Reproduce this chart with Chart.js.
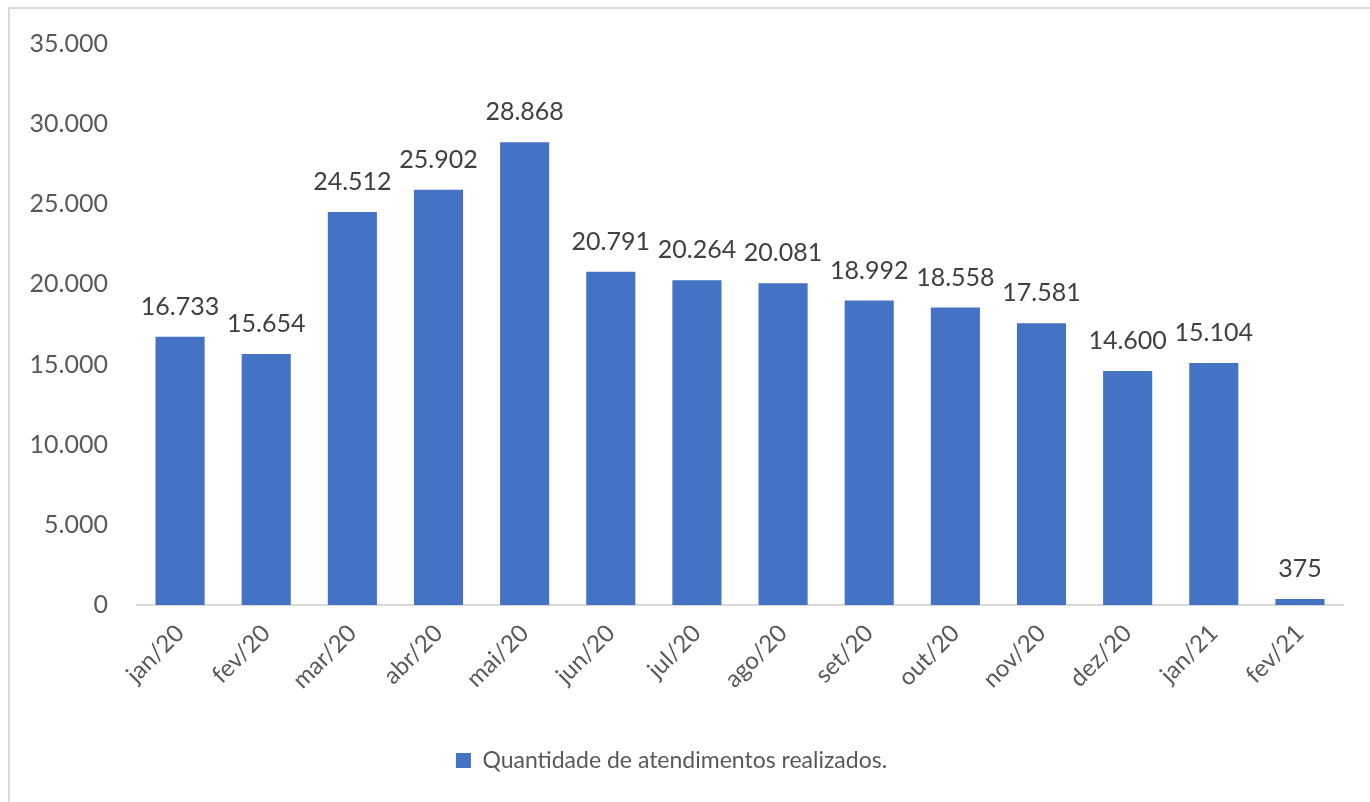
<!DOCTYPE html>
<html lang="pt-BR">
<head>
<meta charset="utf-8">
<title>Quantidade de atendimentos realizados</title>
<script src="https://cdn.jsdelivr.net/npm/chart.js"></script>
<style>
  html, body { margin: 0; padding: 0; background: #fff; overflow: hidden; }
  #frame {
    position: absolute; left: 8px; top: 7px;
    width: 1400px; height: 840px;
    border: 2px solid #d9d9d9; box-sizing: border-box;
  }
  #wrap { position: absolute; left: 0; top: 0; width: 1370px; height: 802px; }
</style>
</head>
<body>
<div id="frame"></div>
<div id="wrap"><canvas id="chart"></canvas></div>
<script>
// monthly service counts
const months = ['jan/20', 'fev/20', 'mar/20', 'abr/20', 'mai/20', 'jun/20', 'jul/20',
                'ago/20', 'set/20', 'out/20', 'nov/20', 'dez/20', 'jan/21', 'fev/21'];
const atendimentos = [16733, 15654, 24512, 25902, 28868, 20791, 20264,
                      20081, 18992, 18558, 17581, 14600, 15104, 375];
const yTicks = [0, 5000, 10000, 15000, 20000, 25000, 30000, 35000];
const seriesName = 'Quantidade de atendimentos realizados.';

const FONT = 'Lato, "Open Sans", sans-serif';

function fmt(v) {
    return String(v).replace(/\B(?=(\d{3})+(?!\d))/g, '.');
}

// draws the value above each bar
const valueLabels = {
    id: 'valueLabels',
    afterDatasetsDraw(chart) {
        const ctx = chart.ctx;
        const meta = chart.getDatasetMeta(0);
        ctx.save();
        ctx.font = '25px ' + FONT;
        ctx.fillStyle = '#404040';
        ctx.textAlign = 'center';
        ctx.textBaseline = 'alphabetic';
        meta.data.forEach((bar, i) => {
            ctx.fillText(fmt(chart.data.datasets[0].data[i]), bar.x, bar.y - 22);
        });
        ctx.restore();
    }
};

const ctx = document.getElementById('chart').getContext('2d');
new Chart(ctx, {
    type: 'bar',
    data: {
        labels: months,
        datasets: [{
            label: seriesName,
            data: atendimentos,
            backgroundColor: '#4472c4',
            borderWidth: 0,
            categoryPercentage: 1,
            barPercentage: 0.57
        }]
    },
    options: {
        responsive: true,
        maintainAspectRatio: false,
        animation: false,
        layout: { padding: { top: 44, right: 27, left: 0, bottom: 20 } },
        plugins: {
            tooltip: { enabled: false },
            legend: {
                position: 'bottom',
                labels: {
                    color: '#595959',
                    font: { family: FONT, size: 23 },
                    boxWidth: 15,
                    boxHeight: 15,
                    padding: 10
                }
            }
        },
        scales: {
            x: {
                grid: { display: false, drawTicks: false },
                border: { display: true, color: '#d9d9d9', width: 2 },
                ticks: {
                    color: '#595959',
                    font: { family: FONT, size: 24 },
                    maxRotation: 45,
                    minRotation: 45,
                    padding: 14
                },
                afterFit(scale) { scale.height = 134; }
            },
            y: {
                min: 0,
                max: 35000,
                grid: { display: false, drawTicks: false },
                border: { display: false },
                afterBuildTicks(scale) {
                    scale.ticks = yTicks.map(v => ({ value: v }));
                },
                ticks: {
                    color: '#595959',
                    font: { family: FONT, size: 25 },
                    padding: 29,
                    callback: v => fmt(v)
                },
                afterFit(scale) { scale.width = 137; }
            }
        }
    },
    plugins: [valueLabels]
});
</script>
</body>
</html>
